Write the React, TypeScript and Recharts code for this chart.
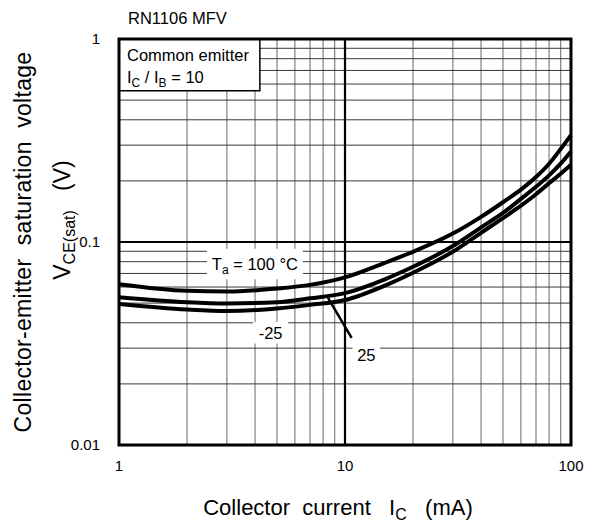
import React from "react"
import { LineChart, Line, XAxis, YAxis, CartesianGrid, ReferenceLine, ReferenceArea } from "recharts"

const FONT = "'Liberation Sans', Arial, Helvetica, sans-serif"
const SP = "\u00A0"

// collector current (mA) and VCE(sat) (V)
const currentMA = [1, 2, 3, 5, 7, 10, 15, 20, 30, 40, 50, 60, 70, 80, 90, 100]
const vceTa100 = [0.062, 0.0575, 0.057, 0.059, 0.0615, 0.067, 0.079, 0.0895, 0.11, 0.133, 0.157, 0.181, 0.209, 0.243, 0.287, 0.336]
const vceTa25 = [0.0535, 0.0505, 0.0498, 0.0505, 0.0528, 0.056, 0.0655, 0.0755, 0.0955, 0.118, 0.139, 0.163, 0.187, 0.213, 0.243, 0.279]
const vceTaM25 = [0.0495, 0.0465, 0.0457, 0.047, 0.049, 0.0518, 0.061, 0.0706, 0.0896, 0.111, 0.131, 0.151, 0.172, 0.195, 0.217, 0.24]

const xGridTicks = [1, 2, 3, 4, 5, 6, 7, 8, 9, 10, 20, 30, 40, 50, 60, 70, 80, 90, 100]
const yGridTicks = [
  0.01, 0.02, 0.03, 0.04, 0.05, 0.06, 0.07, 0.08, 0.09,
  0.1, 0.2, 0.3, 0.4, 0.5, 0.6, 0.7, 0.8, 0.9, 1,
]
const xLabelTicks = [1, 10, 100]
const yLabelTicks = [0.01, 0.1, 1]

const chartData = currentMA.map((ic, i) => ({
  ic,
  t100: vceTa100[i],
  t25: vceTa25[i],
  tm25: vceTaM25[i],
}))

function XTitle({ viewBox }: any) {
  const cx = viewBox.x + viewBox.width / 2 - 7
  return (
    <text x={cx} y={viewBox.y + 70} textAnchor="middle" fontSize={22} fontFamily={FONT} fill="#000">
      {`Collector${SP}${SP}current${SP}${SP}${SP}I`}
      <tspan fontSize={16} dy={5}>C</tspan>
      <tspan dy={-5}>{`${SP}${SP}${SP}(mA)`}</tspan>
    </text>
  )
}

function YTitle({ viewBox }: any) {
  const cy = viewBox.y + viewBox.height / 2
  const x1 = viewBox.x + 31
  const x2 = viewBox.x + 70
  const cy2 = cy - 22
  return (
    <g fontFamily={FONT} fill="#000" fontSize={23}>
      <text x={x1} y={cy} transform={`rotate(-90 ${x1} ${cy})`} textAnchor="middle" letterSpacing={0.3}>
        {`Collector-emitter${SP}${SP}saturation${SP}${SP}voltage`}
      </text>
      <text x={x2} y={cy2} transform={`rotate(-90 ${x2} ${cy2})`} textAnchor="middle">
        V<tspan fontSize={16} dy={5}>CE(sat)</tspan>
        <tspan dy={-5}>{`${SP}${SP}${SP}(V)`}</tspan>
      </text>
    </g>
  )
}

function CondLabel({ viewBox }: any) {
  const x = viewBox.x + 8
  return (
    <text fontSize={16.5} fontFamily={FONT} fill="#000">
      <tspan x={x} y={viewBox.y + 22}>Common emitter</tspan>
      <tspan x={x} y={viewBox.y + 44}>
        I<tspan fontSize={12} dy={4}>C</tspan>
        <tspan dy={-4}>{" / I"}</tspan>
        <tspan fontSize={12} dy={4}>B</tspan>
        <tspan dy={-4}>{" = 10"}</tspan>
      </tspan>
    </text>
  )
}

function TaLabel({ viewBox }: any) {
  return (
    <text x={viewBox.x + viewBox.width / 2} y={viewBox.y + viewBox.height / 2} dy="0.36em" textAnchor="middle" fontSize={16.5} fontFamily={FONT} fill="#000">
      T<tspan fontSize={12} dy={4}>a</tspan>
      <tspan dy={-4}>{" = 100 °C"}</tspan>
    </text>
  )
}

const plainLabel = (txt: string) => ({ viewBox }: any) => (
  <text x={viewBox.x + viewBox.width / 2} y={viewBox.y + viewBox.height / 2} dy="0.36em" textAnchor="middle" fontSize={16.5} fontFamily={FONT} fill="#000">
    {txt}
  </text>
)

export default function App() {
  return (
    <div style={{ position: "absolute", left: 0, top: 0, width: 596, height: 525, background: "#fff" }}>
      <div style={{ position: "absolute", left: 128, top: 9, fontFamily: FONT, fontSize: 16.5, color: "#000" }}>
        RN1106 MFV
      </div>
      <LineChart width={596} height={525} data={chartData} margin={{ top: 39, right: 25, bottom: 0, left: 0 }}>
        <CartesianGrid horizontal={false} stroke="#8a8a8a" strokeWidth={1.3} />
        <CartesianGrid vertical={false} stroke="#3a3a3a" strokeWidth={1} />
        <XAxis
          dataKey="ic"
          type="number"
          scale="log"
          domain={[1, 100]}
          ticks={xGridTicks}
          interval={0}
          tickFormatter={(v: number) => (xLabelTicks.includes(v) ? String(v) : "")}
          axisLine={false}
          tickLine={false}
          tickSize={0}
          tickMargin={15}
          height={80}
          tick={{ fontSize: 15, fill: "#000", fontFamily: FONT }}
          label={{ content: XTitle }}
        />
        <YAxis
          type="number"
          scale="log"
          domain={[0.01, 1]}
          ticks={yGridTicks}
          interval={0}
          tickFormatter={(v: number) => (yLabelTicks.includes(v) ? String(v) : "")}
          axisLine={false}
          tickLine={false}
          tickSize={0}
          tickMargin={19}
          width={119}
          tick={{ fontSize: 15, fill: "#000", fontFamily: FONT }}
          label={{ content: YTitle }}
        />
        <ReferenceLine x={10} stroke="#000" strokeWidth={2.2} />
        <ReferenceLine y={0.1} stroke="#000" strokeWidth={2.2} />
        <Line type="monotone" dataKey="t100" stroke="#000" strokeWidth={4} dot={false} isAnimationActive={false} />
        <Line type="monotone" dataKey="t25" stroke="#000" strokeWidth={4} dot={false} isAnimationActive={false} />
        <Line type="monotone" dataKey="tm25" stroke="#000" strokeWidth={4} dot={false} isAnimationActive={false} />
        <ReferenceArea x1={1} x2={4.2} y1={0.556} y2={1} fill="#fff" fillOpacity={1} stroke="#000" strokeWidth={1.5} label={{ content: CondLabel }} />
        <ReferenceArea x1={2.45} x2={6.51} y1={0.0656} y2={0.0925} fill="#fff" fillOpacity={1} label={{ content: TaLabel }} />
        <ReferenceArea x1={3.92} x2={5.6} y1={0.0316} y2={0.0404} fill="#fff" fillOpacity={1} label={{ content: plainLabel("-25") }} />
        <ReferenceArea x1={10.8} x2={14.3} y1={0.0245} y2={0.0312} fill="#fff" fillOpacity={1} label={{ content: plainLabel("25") }} />
        <ReferenceLine segment={[{ x: 8.41, y: 0.053 }, { x: 10.7, y: 0.0337 }]} stroke="#000" strokeWidth={2.5} />
        <ReferenceArea x1={1} x2={100} y1={0.01} y2={1} fill="none" stroke="#000" strokeWidth={3} />
      </LineChart>
    </div>
  )
}
